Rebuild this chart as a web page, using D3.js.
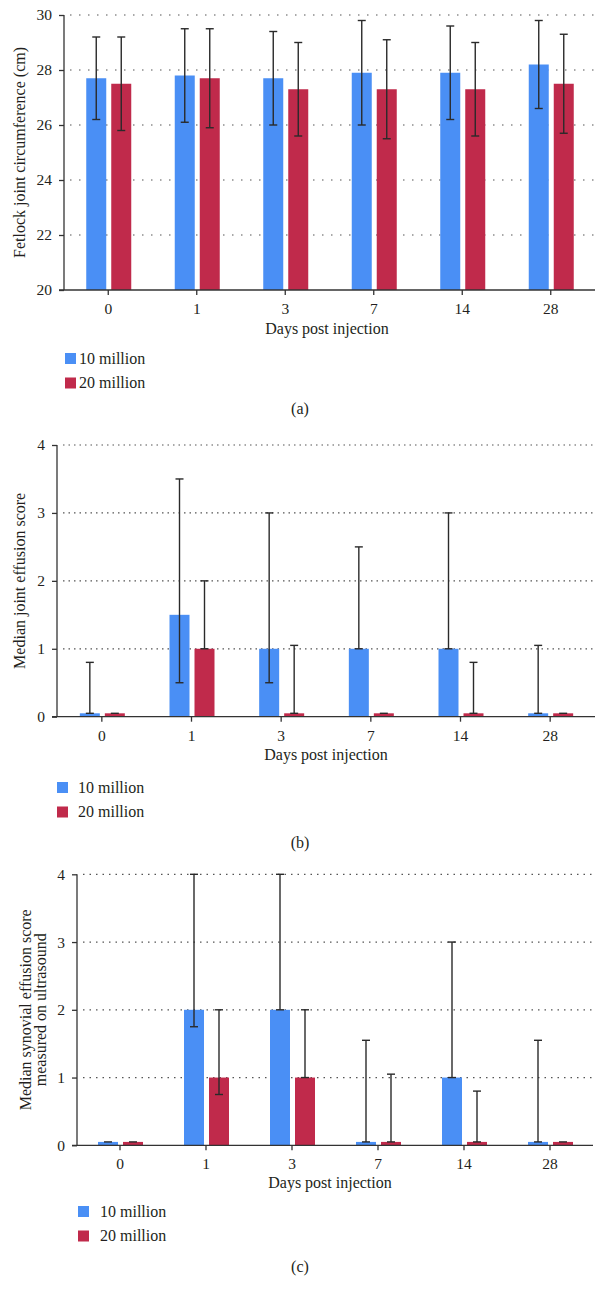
<!DOCTYPE html>
<html><head><meta charset="utf-8">
<script src="https://cdn.jsdelivr.net/npm/d3@7"></script>
<style>
body{margin:0;background:#fff;}
text{font-family:"Liberation Serif","Times New Roman",serif;fill:#231f20;}
</style></head>
<body>
<svg id="chart" width="605" height="1300"></svg>
<script>
const days = ["0","1","3","7","14","28"];
const seriesNames = ["10 million","20 million"];
const colors = ["#4a8ff5","#c02a4b"];

// Panel (a): fetlock joint circumference (cm)
const aTicks = [20,22,24,26,28,30];
const aBlue = [27.7,27.8,27.7,27.9,27.9,28.2];
const aBlueLo = [26.2,26.1,26.0,26.0,26.2,26.6];
const aBlueHi = [29.2,29.5,29.4,29.8,29.6,29.8];
const aRed = [27.5,27.7,27.3,27.3,27.3,27.5];
const aRedLo = [25.8,25.9,25.6,25.5,25.6,25.7];
const aRedHi = [29.2,29.5,29.0,29.1,29.0,29.3];

// Panel (b): median joint effusion score
const bTicks = [0,1,2,3,4];
const bBlue = [0.05,1.5,1.0,1.0,1.0,0.05];
const bBlueLo = [0.05,0.5,0.5,1.0,1.0,0.05];
const bBlueHi = [0.8,3.5,3.0,2.5,3.0,1.05];
const bRed = [0.05,1.0,0.05,0.05,0.05,0.05];
const bRedLo = [0.05,1.0,0.05,0.05,0.05,0.05];
const bRedHi = [0.05,2.0,1.05,0.05,0.8,0.05];

// Panel (c): median synovial effusion score (ultrasound)
const cTicks = [0,1,2,3,4];
const cBlue = [0.05,2.0,2.0,0.05,1.0,0.05];
const cBlueLo = [0.05,1.75,2.0,0.05,1.0,0.05];
const cBlueHi = [0.05,4.0,4.0,1.55,3.0,1.55];
const cRed = [0.05,1.0,1.0,0.05,0.05,0.05];
const cRedLo = [0.05,0.75,1.0,0.05,0.05,0.05];
const cRedHi = [0.05,2.0,2.0,1.05,0.8,0.05];

const svg = d3.select("#chart");

function panel(cfg){
  const g = svg.append("g");
  const x = d3.scaleBand().domain(days).range([cfg.left, cfg.right]);
  const xs = d3.scaleBand().domain(seriesNames).range([-22, 23]).paddingInner(0.2);
  const y = d3.scaleLinear().domain(cfg.domain).range([cfg.bottom, cfg.top]);

  // grid
  g.append("g").selectAll("line").data(cfg.ticks.filter(t => t !== cfg.domain[0])).join("line")
    .attr("x1", cfg.left+6).attr("x2", cfg.right).attr("y1", d=>y(d)).attr("y2", d=>y(d))
    .attr("stroke","#555").attr("stroke-width",1.2).attr("stroke-dasharray", cfg.dash);

  const series = [
    {name:seriesNames[0], v:cfg.blue, lo:cfg.blueLo, hi:cfg.blueHi, c:colors[0]},
    {name:seriesNames[1], v:cfg.red, lo:cfg.redLo, hi:cfg.redHi, c:colors[1]}
  ];
  series.forEach(s=>{
    const data = days.map((d,i)=>({d, v:s.v[i], lo:s.lo[i], hi:s.hi[i]}));
    const bx = d => x(d.d) + x.bandwidth()/2 + xs(s.name);
    g.append("g").selectAll("rect").data(data).join("rect")
      .attr("x", bx).attr("width", xs.bandwidth())
      .attr("y", d=>y(d.v)).attr("height", d=>y(cfg.domain[0])-y(d.v))
      .attr("fill", s.c);
    const eg = g.append("g").attr("stroke","#2a2a2a").attr("stroke-width",1.4);
    data.forEach(d=>{
      const cx = bx(d) + xs.bandwidth()/2;
      if (d.hi > d.lo) {
        eg.append("line").attr("x1",cx).attr("x2",cx).attr("y1",y(d.lo)).attr("y2",y(d.hi));
        eg.append("line").attr("x1",cx-4).attr("x2",cx+4).attr("y1",y(d.hi)).attr("y2",y(d.hi));
      }
      eg.append("line").attr("x1",cx-4).attr("x2",cx+4).attr("y1",y(d.lo)).attr("y2",y(d.lo));
    });
  });

  // axes
  const yAxis = d3.axisLeft(y).tickValues(cfg.ticks).tickFormat(d3.format("d")).tickSize(5).tickPadding(7);
  const ya = g.append("g").attr("transform",`translate(${cfg.left},0)`).call(yAxis);
  const xAxis = d3.axisBottom(x).tickSize(5).tickPadding(8);
  const xa = g.append("g").attr("transform",`translate(0,${cfg.bottom})`).call(xAxis);
  [ya,xa].forEach(a=>{
    a.select(".domain").attr("stroke","#333").attr("stroke-width",1.3);
    a.selectAll(".tick line").attr("stroke","#333").attr("stroke-width",1.3);
    a.selectAll("text").attr("font-family","Liberation Serif, serif").attr("font-size",15.5).attr("fill","#231f20");
  });
  ya.select(".domain").attr("d",`M0,${cfg.bottom}V${cfg.top}`);
  xa.select(".domain").attr("d",`M${cfg.left-5},0H${cfg.right}`);

  // axis titles
  g.append("text").attr("x", cfg.xTitleX).attr("y", cfg.xTitleY).attr("text-anchor","middle")
    .attr("font-size",16).text("Days post injection");
  const yt = g.append("text").attr("transform",`translate(${cfg.yTitleX},${(cfg.top+cfg.bottom)/2}) rotate(-90)`)
    .attr("text-anchor","middle").attr("font-size",16);
  cfg.yTitle.forEach((line,i)=>{
    yt.append("tspan").attr("x",0).attr("dy", i===0 ? (-(cfg.yTitle.length-1)*0.5*15)+"px" : "15px").text(line);
  });

  // legend
  const lg = g.append("g");
  seriesNames.forEach((n,i)=>{
    lg.append("rect").attr("x",cfg.legX).attr("y",cfg.legY+i*24.5).attr("width",11).attr("height",11).attr("fill",colors[i]);
    lg.append("text").attr("x",cfg.legX+cfg.legGap).attr("y",cfg.legY+i*24.5+10.5).attr("font-size",16).text(n);
  });
  g.append("text").attr("x",300).attr("y",cfg.capY).attr("text-anchor","middle").attr("font-size",16).text(cfg.cap);
}

panel({left:64,right:595,top:15,bottom:290,domain:[20,30],ticks:aTicks,dash:"1.5,7.5",
  blue:aBlue,blueLo:aBlueLo,blueHi:aBlueHi,red:aRed,redLo:aRedLo,redHi:aRedHi,
  xTitleX:327,xTitleY:334,yTitle:["Fetlock joint circumference (cm)"],yTitleX:25,
  legX:65,legY:353,legGap:14,capY:414,cap:"(a)"});

panel({left:57,right:595,top:445,bottom:716.7,domain:[0,4],ticks:bTicks,dash:"1.5,4",
  blue:bBlue,blueLo:bBlueLo,blueHi:bBlueHi,red:bRed,redLo:bRedLo,redHi:bRedHi,
  xTitleX:326,xTitleY:760,yTitle:["Median joint effusion score"],yTitleX:25,
  legX:57,legY:782,legGap:21,capY:848,cap:"(b)"});

panel({left:77,right:593,top:874.3,bottom:1145.3,domain:[0,4],ticks:cTicks,dash:"1.5,5",
  blue:cBlue,blueLo:cBlueLo,blueHi:cBlueHi,red:cRed,redLo:cRedLo,redHi:cRedHi,
  xTitleX:330,xTitleY:1188,yTitle:["Median synovial effusion score","measured on ultrasound"],yTitleX:38,
  legX:78,legY:1206,legGap:22,capY:1272,cap:"(c)"});
</script>
</body></html>
